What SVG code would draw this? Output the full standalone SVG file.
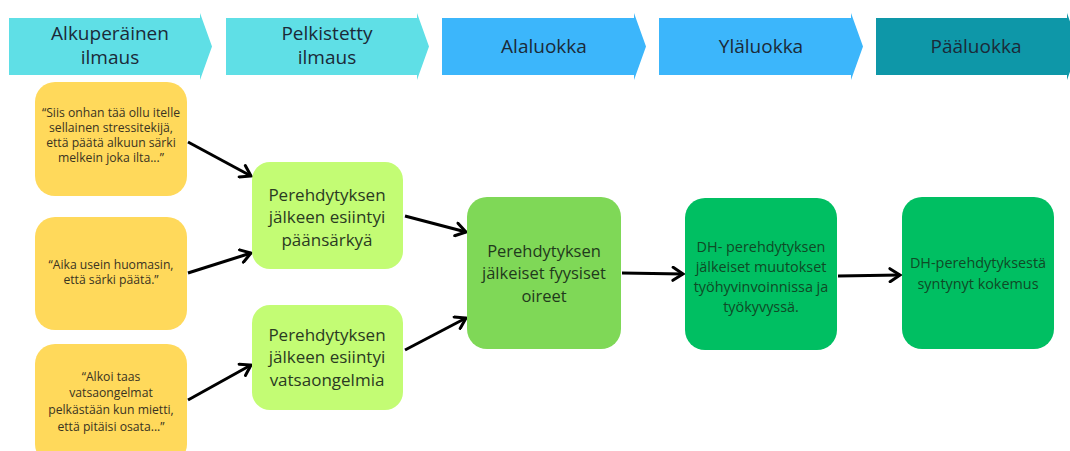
<svg xmlns="http://www.w3.org/2000/svg" width="1070" height="451" viewBox="0 0 1070 451">
<defs>
<style>
text{font-family:"Open Sans","Noto Sans","DejaVu Sans",sans-serif;text-anchor:middle}
.hd{font-size:19px;fill:#1b2a38}
.q{font-size:12.2px;fill:#3a3322}
.lg{font-size:17px;fill:#2a3a22}
.md{font-size:16.5px;fill:#1f3a1c}
.dk{font-size:14.4px;fill:#0f4a26}
.c1{fill:#5fdfe6}.c2{fill:#3cb6fb}.c3{fill:#0e97a8}
.y{fill:#ffd95b}.g1{fill:#c3fc74}.g2{fill:#7fd857}.g3{fill:#00bf62}
.ln{stroke:#000;stroke-width:3;fill:none;marker-end:url(#ah)}
</style>
<marker id="ah" markerUnits="userSpaceOnUse" markerWidth="16" markerHeight="16" refX="12" refY="8" orient="auto" viewBox="0 0 16 16">
<path d="M2,1.5 L12,8 L2,14.5" fill="none" stroke="#000" stroke-width="3" stroke-linecap="round" stroke-linejoin="miter"/>
</marker>
</defs>
<rect width="1070" height="451" fill="#fff"/>
<g id="header">
<g id="h1"><path class="c1" d="M9,18H200V13L212,46.5L200,80V75H9Z"/><text class="hd" x="110" y="40">Alkuperäinen</text><text class="hd" x="110" y="64">ilmaus</text></g>
<g id="h2"><path class="c1" d="M226,18H417V13L429,46.5L417,80V75H226Z"/><text class="hd" x="327" y="40">Pelkistetty</text><text class="hd" x="327" y="64">ilmaus</text></g>
<g id="h3"><path class="c2" d="M442,18H634V13L646,46.5L634,80V75H442Z"/><text class="hd" x="544" y="53">Alaluokka</text></g>
<g id="h4"><path class="c2" d="M659,18H851V13L863,46.5L851,80V75H659Z"/><text class="hd" x="761" y="53">Yläluokka</text></g>
<g id="h5"><path class="c3" d="M876,18H1067V13L1079,46.5L1067,80V75H876Z"/><text class="hd" x="976" y="53">Pääluokka</text></g>
</g>
<g id="connectors">
<line class="ln" x1="188" y1="142" x2="251" y2="176"/>
<line class="ln" x1="188" y1="273" x2="251" y2="253"/>
<line class="ln" x1="188" y1="400" x2="251" y2="365"/>
<line class="ln" x1="405" y1="216" x2="466" y2="232"/>
<line class="ln" x1="405" y1="350" x2="466" y2="318"/>
<line class="ln" x1="622" y1="273" x2="683" y2="274"/>
<line class="ln" x1="838" y1="276" x2="900" y2="275"/>
</g>
<g id="q1"><rect class="y" x="35" y="82" width="152" height="114" rx="20"/>
<text class="q" x="111" y="117">“Siis onhan tää ollu itelle</text><text class="q" x="111" y="132">sellainen stressitekijä,</text><text class="q" x="111" y="147">että päätä alkuun särki</text><text class="q" x="111" y="162">melkein joka ilta...”</text></g>
<g id="q2"><rect class="y" x="35" y="217" width="152" height="113" rx="20"/>
<text class="q" x="111" y="269">“Aika usein huomasin,</text><text class="q" x="111" y="284">että särki päätä.”</text></g>
<g id="q3"><rect class="y" x="35" y="344" width="152" height="120" rx="20"/>
<text class="q" x="111" y="381">“Alkoi taas</text><text class="q" x="111" y="397">vatsaongelmat</text><text class="q" x="111" y="414">pelkästään kun mietti,</text><text class="q" x="111" y="431">että pitäisi osata...”</text></g>
<g id="p1"><rect class="g1" x="252" y="162" width="151" height="107" rx="18"/>
<text class="lg" x="327" y="201">Perehdytyksen</text><text class="lg" x="327" y="223">jälkeen esiintyi</text><text class="lg" x="327" y="246">päänsärkyä</text></g>
<g id="p2"><rect class="g1" x="252" y="305" width="151" height="105" rx="18"/>
<text class="lg" x="327" y="341">Perehdytyksen</text><text class="lg" x="327" y="363">jälkeen esiintyi</text><text class="lg" x="327" y="386">vatsaongelmia</text></g>
<g id="a1"><rect class="g2" x="467" y="197" width="154" height="152" rx="20"/>
<text class="md" x="544" y="257">Perehdytyksen</text><text class="md" x="544" y="279">jälkeiset fyysiset</text><text class="md" x="544" y="302">oireet</text></g>
<g id="y1"><rect class="g3" x="685" y="198" width="152" height="152" rx="20"/>
<text class="dk" x="761" y="252">DH- perehdytyksen</text><text class="dk" x="761" y="272">jälkeiset muutokset</text><text class="dk" x="761" y="292">työhyvinvoinnissa ja</text><text class="dk" x="761" y="312">työkyvyssä.</text></g>
<g id="m1"><rect class="g3" x="902" y="197" width="152" height="152" rx="20"/>
<text class="dk" x="978" y="268">DH-perehdytyksestä</text><text class="dk" x="978" y="289">syntynyt kokemus</text></g>
</svg>
